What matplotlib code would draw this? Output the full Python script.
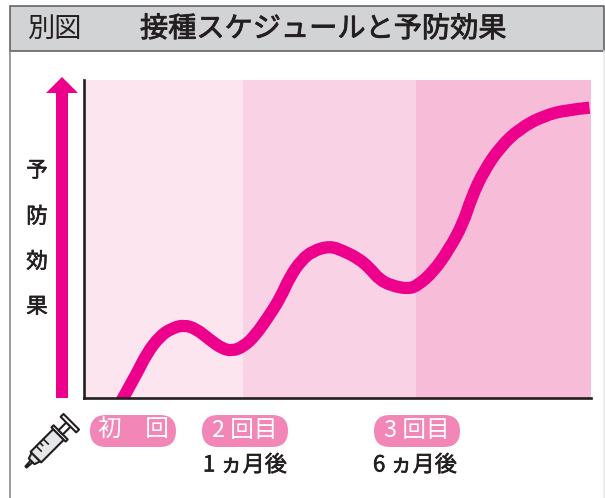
import numpy as np
import matplotlib
matplotlib.use('Agg')
import matplotlib.pyplot as plt
import matplotlib.patheffects as pe
from matplotlib.path import Path
from matplotlib.patches import FancyBboxPatch, PathPatch, Polygon, Rectangle

plt.rcParams['font.family'] = ['Noto Sans CJK JP', 'DejaVu Sans']

# Data (effect curve, both axes in percent of the plot area)
curve_x = [7.0, 10.1, 12.4, 15.0, 17.3, 19.7, 22.2, 24.9, 27.2, 29.2, 31.4, 33.7,
           36.4, 38.7, 40.6, 42.9, 45.2, 48.5, 51.1, 54.1, 56.4, 58.2, 60.7, 64.0,
           65.9, 68.9, 71.9, 74.7, 76.5, 78.8, 82.1, 86.0, 90.6, 95.2, 99.7]
curve_y = [-2.0, 6.7, 14.1, 19.5, 21.9, 23.0, 21.7, 18.2, 15.6, 14.8, 16.1, 19.5,
           25.6, 31.4, 38.1, 43.4, 46.3, 47.8, 46.3, 43.9, 40.8, 37.3, 35.3, 34.3,
           35.5, 39.7, 46.5, 54.6, 63.3, 71.2, 79.0, 84.8, 88.7, 90.6, 91.3]
band_edges = [0, 31.4, 65.5, 100]
band_colors = ['#fce5ef', '#f9d3e5', '#f7bcd7']
dose_labels = ['初　回', '2 回目', '3 回目']
dose_centers = [133, 245, 417]
time_labels = ['1 ヵ月後', '6 ヵ月後']
time_centers = [245, 415]
ylabel_chars = ['予', '防', '効', '果']
ylabel_pos = [171, 217, 262, 307]

PINK = '#ec008c'
DARK = '#231f20'

def medium(color, w=0.45):
    # the font comes in regular and bold only, thicken the regular a little
    return [pe.withStroke(linewidth=w, foreground=color)]

fig = plt.figure(figsize=(6.05, 4.98), dpi=100)

# Overlay in pixel units for the frame, header and labels
bg = fig.add_axes([0, 0, 1, 1])
bg.set_xlim(0, 605)
bg.set_ylim(498, 0)
bg.axis('off')

# Header and frame
bg.add_patch(Rectangle((9.5, 6), 594, 45, fc='#d1d3d4', ec='#58595b', lw=1.1))
bg.plot([9.5, 9.5], [51, 498], color='#808285', lw=1.1)
bg.plot([604, 604], [51, 498], color='#e6e7e8', lw=1.1)
bg.text(27, 29, '別図', fontsize=19.6, color=DARK, va='center', ha='left')
bg.text(140, 29, '接種スケジュールと予防効果', fontsize=20.3, color=DARK, va='center', ha='left',
        path_effects=medium(DARK, 0.6))

# Big arrow on the left
bg.add_patch(Polygon([(56, 398), (68, 398), (68, 93), (78, 93), (62, 77), (46, 93), (56, 93)],
                     fc=PINK, ec='none'))
for ch, y in zip(ylabel_chars, ylabel_pos):
    bg.text(37, y, ch, fontsize=15.5, color=DARK, ha='center', va='center', path_effects=medium(DARK))

# Dose pills
for label, c in zip(dose_labels, dose_centers):
    bg.add_patch(FancyBboxPatch((c - 43, 415), 86, 32, boxstyle='round,pad=0,rounding_size=16',
                                fc='#f287b7', ec='none'))
    bg.text(c, 430.5, label, fontsize=17, color='white', ha='center', va='center')
for label, c in zip(time_labels, time_centers):
    bg.text(c, 465, label, fontsize=16, color=DARK, ha='center', va='center', path_effects=medium(DARK))

# Syringe icon, u along the body from the tip and v across it
def pt(u, v):
    return (26 + (u + v) * 0.7071, 467 + (v - u) * 0.7071)

def part(corners, fc):
    bg.add_patch(Polygon([pt(u, v) for u, v in corners], fc=fc, ec=DARK, lw=1.5, joinstyle='round'))

part([(0, -0.8), (10, -1.5), (10, 1.5), (0, 0.8)], '#e6e7e8')
part([(8, -4), (14, -6), (14, 6), (8, 4)], '#e6e7e8')
part([(14, -7.5), (46, -7.5), (46, 7.5), (14, 7.5)], '#e6e7e8')
part([(46, -10), (49, -10), (49, 10), (46, 10)], 'white')
part([(49, -3), (60, -3), (60, 3), (49, 3)], 'white')
part([(60, -11), (64, -11), (64, 11), (60, 11)], 'white')
for u, length in zip([22, 27, 32], [7, 4, 7]):
    a, b = pt(u, -7.5), pt(u, -7.5 + length)
    bg.plot([a[0], b[0]], [a[1], b[1]], color=DARK, lw=1.2)

# Chart
ax = fig.add_axes([84 / 605, 100 / 498, 507 / 605, 318 / 498])
ax.patch.set_alpha(0)
for i in range(3):
    ax.axvspan(band_edges[i], band_edges[i + 1], color=band_colors[i], lw=0, zorder=0)

# smooth stroke through the read values, quadratic segments between midpoints
pts = np.column_stack([curve_x, curve_y])
verts = [pts[0]]
codes = [Path.MOVETO]
for i in range(1, len(pts) - 1):
    end = pts[i + 1] if i == len(pts) - 2 else (pts[i] + pts[i + 1]) / 2
    verts += [pts[i], end]
    codes += [Path.CURVE3, Path.CURVE3]
ax.add_patch(PathPatch(Path(verts, codes), fc='none', ec=PINK, lw=8.8, capstyle='butt',
                       joinstyle='round', zorder=2))

ax.set_xlim(0, 100)
ax.set_ylim(0, 100)
ax.set_xticks([])
ax.set_yticks([])
for s in ['top', 'right']:
    ax.spines[s].set_visible(False)
for s in ['left', 'bottom']:
    ax.spines[s].set_linewidth(1.9)
    ax.spines[s].set_color(DARK)
    ax.spines[s].set_zorder(3)

fig.savefig('out.png', dpi=100)
